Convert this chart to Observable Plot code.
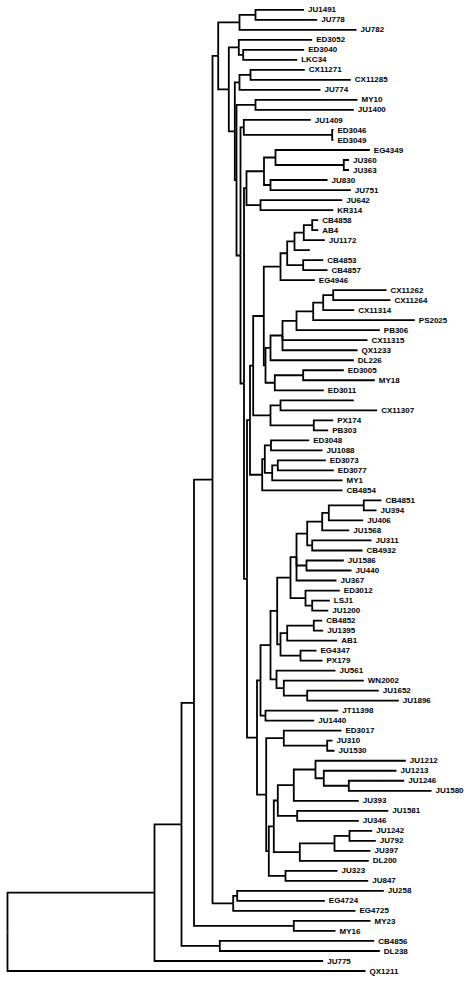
<!DOCTYPE html>
<html>
<head>
<meta charset="utf-8">
<script src="https://cdn.jsdelivr.net/npm/d3@7"></script>
<script src="https://cdn.jsdelivr.net/npm/@observablehq/plot@0.6"></script>
<style>
  html, body { margin: 0; padding: 0; background: #fff; }
  #chart svg { display: block; }
</style>
</head>
<body>
<div id="chart"></div>
<script>
// Leaves (top to bottom), their parent node and their distance from the root
const leaves = ["JU1491","JU778","JU782","ED3052","ED3040","LKC34","CX11271","CX11285","JU774","MY10",
  "JU1400","JU1409","ED3046","ED3049","EG4349","JU360","JU363","JU830","JU751","JU642",
  "KR314","CB4858","AB4","JU1172","","CB4853","CB4857","EG4946","CX11262","CX11264",
  "CX11314","PS2025","PB306","CX11315","QX1233","DL226","ED3005","MY18","ED3011","",
  "CX11307","PX174","PB303","ED3048","JU1088","ED3073","ED3077","MY1","CB4854","CB4851",
  "JU394","JU406","JU1568","JU311","CB4932","JU1586","JU440","JU367","ED3012","LSJ1",
  "JU1200","CB4852","JU1395","AB1","EG4347","PX179","JU561","WN2002","JU1652","JU1896",
  "JT11398","JU1440","ED3017","JU310","JU1530","JU1212","JU1213","JU1246","JU1580","JU393",
  "JU1581","JU346","JU1242","JU792","JU397","DL200","JU323","JU847","JU258","EG4724",
  "EG4725","MY23","MY16","CB4856","DL238","JU775","QX1211"];
const leafParent = ["Gb","Gb","Ga","H","Ha","Ha","Ja","Ja","J","My",
  "My","K","Ka","Ka","L","La","La","M","M","O",
  "O","Qa","Qa","Q","R","S","S","U","Wa","Wa",
  "W","X","Y","Z","Z","AC","AAa","AAa","AA","AD",
  "AD","AEa","AEa","AG","AG","AHa","AHa","AH","AJ","BA3",
  "BA3","BA2","BA1","BA4","BA4","BB1","BB1","BB","BC","BC1",
  "BC1","BE1","BE1","BE","BF1","BF1","BK","BJ","BJ1","BJ1",
  "BL","BL","CA","CA1","CA1","CC","CB","CB1","CB1","CD",
  "CE1","CE1","CF1","CF1","CF","CG","CI","CI","F","F",
  "E","Cm","Cm","Bc","Bc","A","root"];
const leafDepth = [296.5,309.7,349,304.7,296.7,289.7,297.3,343.3,313,350,
  346.3,303.3,326,326,362.3,341.5,341.5,320,343.3,334.7,
  325.7,310.7,310.7,317.3,302.3,315.7,320,307.3,379,383,
  346.7,407.3,372.3,360,350,346.3,336.3,367.3,316.3,346.3,
  369.7,325.7,320.7,301.7,315,318.3,326.3,335,335,374,
  369,355.7,341.7,364,355,336.3,344,329,332.3,322.3,
  320.7,314.7,315.7,329.7,309,315,328,356.3,371.3,391.3,
  330.7,306.7,334,325,327,398.3,389,396.7,424,351.3,
  380.7,351.3,364.7,368.3,363,361.3,330,360.7,376.3,317.3,
  348,363,328,366.7,372.3,315.7,358];

// Internal nodes, their parent and their distance from the root
const nodes = ["root","A","B","C","D","G","Ga","Gb","G2","H","Ha","G3","J","Ja","G4","My","G5","K","Ka","G6",
  "P","N","L","La","M","O","BN","AK","AF","V","U","T","R","Q","Qa","S","AB","AC","Z","Y",
  "X","W","Wa","AA","AAa","AE","AD","AEa","AJ","AI","AG","AH","AHa","BM","BH","BI","BG","BD","BB","BA",
  "BA1","BA2","BA3","BA4","BB1","BC","BC1","BF","BE","BE1","BF1","BK","BJ","BJ1","BL","CK","CA","CA1","CJ","CH",
  "CE","CD","CC","CB","CB1","CE1","CG","CF","CF1","CI","E","F","Cm","Bc"];
const nodeParent = [null,"root","A","B","C","D","G","Ga","G","G2","H","G2","G3","J","G3","G4","G4","G5","K","G5",
  "G6","P","N","L","N","P","G6","BN","AK","AF","V","U","T","R","Q","T","V","AB","AC","Z",
  "Y","X","W","AB","AA","AF","AE","AE","AK","AJ","AI","AI","AH","BN","BM","BH","BI","BG","BD","BB",
  "BA","BA1","BA2","BA","BB","BD","BC","BG","BF","BE","BF","BI","BK","BJ","BH","BM","CK","CA","CK","CJ",
  "CH","CE","CD","CC","CB","CE","CH","CG","CF","CJ","D","E","C","B"];
const nodeDepth = [0,147,174,186.5,205,210.7,232,248,221.3,231.3,235.7,227.3,232,243,229,248,233,236.3,324.7,236.5,
  239,256.5,268,336.3,263,253,239.5,242.5,245.7,256.3,273,279.7,287,296.3,304.7,295.7,258,263,275,289,
  305.7,315.7,325.7,267.3,295.7,263,273,306.3,254.7,257.3,263.5,264.7,270.3,249.5,253,263,269.7,283,289,299.7,
  314.7,321.3,356.3,304.7,299,298,304.7,273,279.7,306.3,293,269,276.3,299.7,258,258.7,276.3,319.7,261.3,266.3,
  270.3,286.3,308,316.3,341.3,289.7,292.3,327,342,278,225.7,229.7,286.3,212.3];

// ---- layout: leaf order gives y; internal node y = midpoint of its outermost children
const info = new Map();
nodes.forEach((id, k) => info.set(id, {id, parent: nodeParent[k], depth: nodeDepth[k], kids: []}));
leaves.forEach((name, i) => {
  const id = "leaf" + i;
  info.set(id, {id, parent: leafParent[i], depth: leafDepth[i], kids: [], y: i, name});
});
for (const n of info.values()) if (n.parent) info.get(n.parent).kids.push(n);
function place(n) {
  if (n.y !== undefined) return n.y;
  const ys = n.kids.map(place);
  n.y = (d3.min(ys) + d3.max(ys)) / 2;
  return n.y;
}
place(info.get("root"));

const edges = [];
for (const n of info.values()) {
  if (!n.parent) continue;
  const p = info.get(n.parent);
  edges.push({x1: p.depth, y1: p.y, x2: n.depth, y2: n.y});
}
const tips = leaves.map((name, i) => ({name, depth: leafDepth[i], y: i}));

const chart = Plot.plot({
  width: 470,
  height: 981,
  margin: 0,
  x: {domain: [0, 463], range: [7, 470], axis: null},
  y: {domain: [0, 96], range: [9.3, 970.5], axis: null},
  style: {background: "#fff", overflow: "visible"},
  marks: [
    Plot.link(edges, {
      x1: "x1", y1: "y1", x2: "x2", y2: "y2",
      curve: "step-before",
      stroke: "#000",
      strokeWidth: 1.8,
      strokeMiterlimit: 4,
      strokeLinejoin: "miter"
    }),
    Plot.text(tips, {
      x: "depth", y: "y", text: "name",
      textAnchor: "start", dx: 4,
      fontSize: 8, fontWeight: "bold",
      fontFamily: "'Liberation Sans', Arial, Helvetica, sans-serif",
      fill: "#000"
    })
  ]
});
document.getElementById("chart").appendChild(chart);
</script>
</body>
</html>
